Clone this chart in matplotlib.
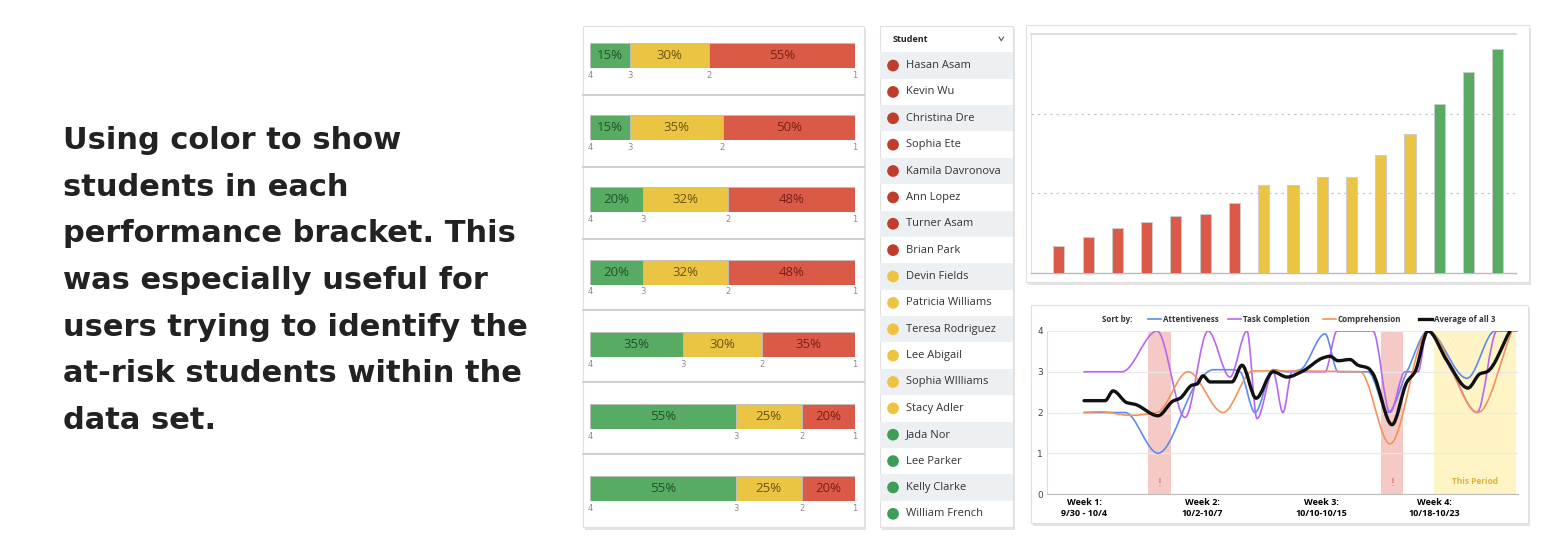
import matplotlib
matplotlib.use("Agg")
import matplotlib.pyplot as plt
import numpy as np
from matplotlib.patches import Rectangle, PathPatch
from matplotlib.path import Path
from matplotlib.lines import Line2D

W, H = 1564, 550

# ---- data ----
intro_lines = [
    "Using color to show",
    "students in each",
    "performance bracket. This",
    "was especially useful for",
    "users trying to identify the",
    "at-risk students within the",
    "data set.",
]

# green / yellow / red share of each bracket row (percent)
green_pct = [15, 15, 20, 20, 35, 55, 55]
yellow_pct = [30, 35, 32, 32, 30, 25, 25]
red_pct = [55, 50, 48, 48, 35, 20, 20]
bracket_ticks = ["4", "3", "2", "1"]

students = [
    "Hasan Asam", "Kevin Wu", "Christina Dre", "Sophia Ete", "Kamila Davronova",
    "Ann Lopez", "Turner Asam", "Brian Park", "Devin Fields", "Patricia Williams",
    "Teresa Rodriguez", "Lee Abigail", "Sophia WIlliams", "Stacy Adler",
    "Jada Nor", "Lee Parker", "Kelly Clarke", "William French",
]
student_level = ["red"] * 8 + ["yellow"] * 6 + ["green"] * 4

scores = [0.34, 0.45, 0.57, 0.64, 0.71, 0.74, 0.88, 1.11,
          1.11, 1.20, 1.20, 1.48, 1.75, 2.12, 2.52, 2.81]
score_level = ["red"] * 7 + ["yellow"] * 6 + ["green"] * 3

week_pos = [0.0, 1.0, 2.01, 2.97]
week_labels = ["Week 1:\n9/30 - 10/4", "Week 2:\n10/2-10/7",
               "Week 3:\n10/10-10/15", "Week 4:\n10/18-10/23"]

att_t = [0.0, 0.347, 0.627, 0.983, 1.093, 1.263, 1.322, 1.449, 1.602, 1.72,
         1.831, 2.042, 2.153, 2.407, 2.576, 2.737, 2.915, 3.246, 3.483, 3.669]
att_v = [2.0, 2.0, 1.0, 2.83, 3.05, 3.05, 3.0, 2.0, 3.05, 3.0,
         3.05, 3.93, 3.0, 3.0, 2.0, 3.0, 4.0, 2.84, 4.0, 4.0]

task_t = [0.0, 0.322, 0.619, 0.856, 1.051, 1.237, 1.381, 1.466, 1.602, 1.686, 1.763,
          2.042, 2.144, 2.449, 2.593, 2.72, 2.831, 2.907, 3.119, 3.331, 3.5, 3.669]
task_v = [3.0, 3.0, 4.0, 1.88, 4.0, 2.87, 4.0, 1.85, 3.0, 2.0, 3.0,
          3.0, 4.0, 4.0, 2.0, 3.0, 3.0, 4.0, 3.0, 2.0, 4.0, 4.0]

comp_t = [0.0, 0.136, 0.39, 0.619, 0.881, 1.178, 1.432, 2.339, 2.593, 2.915, 3.339, 3.627]
comp_v = [2.0, 2.02, 1.93, 2.0, 3.0, 2.0, 3.02, 3.0, 1.23, 4.0, 2.0, 4.0]

avg_t = [0.0, 0.178, 0.246, 0.364, 0.432, 0.627, 0.754, 0.814, 0.915, 0.958, 1.008,
         1.068, 1.254, 1.339, 1.458, 1.602, 1.72, 1.856, 2.025, 2.085, 2.153, 2.254,
         2.322, 2.407, 2.449, 2.61, 2.737, 2.805, 2.915, 3.076, 3.254, 3.356, 3.415, 3.61]
avg_v = [2.29, 2.29, 2.53, 2.24, 2.2, 1.92, 2.28, 2.35, 2.67, 2.7, 2.9,
         2.75, 2.75, 3.16, 2.35, 3.0, 2.87, 3.02, 3.34, 3.38, 3.27, 3.3,
         3.16, 3.09, 2.95, 1.7, 2.75, 3.0, 4.0, 3.27, 2.6, 2.95, 3.0, 4.0]

alert_spans = [(0.542, 0.737), (2.517, 2.703)]
period_span = (2.966, 3.661)

# ---- colours ----
fill = {"green": "#57ab63", "yellow": "#ebc444", "red": "#da5a47"}
ink = {"green": "#24522c", "yellow": "#6a5412", "red": "#7c1f16"}
dot = {"green": "#3f9d55", "yellow": "#f0c240", "red": "#c03d2e"}

fig = plt.figure(figsize=(W / 100, H / 100), dpi=100)
fig.patch.set_facecolor("white")


def px_axes(x0, y0, x1, y1):
    return fig.add_axes([x0 / W, 1 - y1 / H, (x1 - x0) / W, (y1 - y0) / H])


def card(x0, y0, x1, y1):
    fig.add_artist(Rectangle((x0 / W + 2 / W, 1 - (y1 + 3) / H), (x1 - x0) / W, (y1 - y0) / H,
                             transform=fig.transFigure, facecolor="#e4e4e4",
                             edgecolor="none", zorder=-3))
    fig.add_artist(Rectangle((x0 / W, 1 - y1 / H), (x1 - x0) / W, (y1 - y0) / H,
                             transform=fig.transFigure, facecolor="white",
                             edgecolor="#e0e0e0", lw=0.8, zorder=-2))


def smooth_path(t, v):
    # monotone cubic (pchip style) drawn as bezier segments
    t = np.asarray(t, float)
    v = np.asarray(v, float)
    h = np.diff(t)
    d = np.diff(v) / h
    m = np.zeros_like(v)
    m[0], m[-1] = d[0], d[-1]
    for k in range(1, len(v) - 1):
        if d[k - 1] * d[k] > 0:
            w1 = 2 * h[k] + h[k - 1]
            w2 = h[k] + 2 * h[k - 1]
            m[k] = (w1 + w2) / (w1 / d[k - 1] + w2 / d[k])
    verts = [(t[0], v[0])]
    codes = [Path.MOVETO]
    for k in range(len(h)):
        verts += [(t[k] + h[k] / 3, v[k] + m[k] * h[k] / 3),
                  (t[k + 1] - h[k] / 3, v[k + 1] - m[k + 1] * h[k] / 3),
                  (t[k + 1], v[k + 1])]
        codes += [Path.CURVE4] * 3
    return Path(verts, codes)


# ---- intro text ----
for i, line in enumerate(intro_lines):
    fig.text(63 / W, 1 - (149 + 46.7 * i) / H, line, family="DejaVu Sans", weight="bold",
             fontsize=22, color="#222222", va="baseline", ha="left")

# ---- bracket bars ----
card(583, 26, 864, 527)
for i in range(6):
    y = 95 + 71.8 * i
    fig.add_artist(Line2D([583 / W, 864 / W], [1 - y / H, 1 - y / H], transform=fig.transFigure,
                          color="#cfcfcf", lw=1.4, zorder=-1))

for i in range(len(green_pct)):
    top = 43 + 72.2 * i
    ax = px_axes(590, top, 855, top + 25)
    segs = [(green_pct[i], "green"), (yellow_pct[i], "yellow"), (red_pct[i], "red")]
    left = 0
    bounds = [0]
    for val, lev in segs:
        ax.barh(0, val, left=left, height=1, color=fill[lev], edgecolor="#bdbdbd", lw=0.6)
        ax.text(left + val / 2, 0, f"{val}%", ha="center", va="center", fontsize=9.5,
                family="Open Sans", color=ink[lev])
        left += val
        bounds.append(left)
    ax.set_xlim(0, 100)
    ax.set_ylim(-0.5, 0.5)
    ax.set_xticks(bounds)
    ax.set_xticklabels(bracket_ticks)
    ax.set_yticks([])
    ax.tick_params(axis="x", length=0, pad=2, labelsize=6, labelcolor="#8a8a8a")
    for s in ax.spines.values():
        s.set_visible(False)
    ax.patch.set_alpha(0)

# ---- student list ----
card(880, 26, 1013, 527)
ax = px_axes(880, 26, 1013, 527)
ax.set_xlim(0, 1)
ax.set_ylim(17.5, -1.5)
for i, name in enumerate(students):
    if i % 2 == 0:
        ax.axhspan(i - 0.5, i + 0.5, color="#edf0f2", lw=0)
    ax.text(0.195, i, name, va="center", ha="left", fontsize=8, family="Open Sans", color="#333333")
ax.scatter([0.098] * len(students), range(len(students)),
           c=[dot[l] for l in student_level], s=55, zorder=3)
ax.text(0.098, -1, "Student", va="center", ha="left", fontsize=6.5, weight="bold",
        family="Open Sans", color="#222222")
ax.plot([0.895, 0.912, 0.929], [-1.08, -0.94, -1.08], color="#555555", lw=0.8)
ax.axis("off")

# ---- score bars ----
card(1026, 25, 1529, 282)
ax = px_axes(1031, 34, 1516, 273)
ax.bar(range(len(scores)), scores, width=0.38, color=[fill[l] for l in score_level],
       edgecolor="#cccccc", lw=0.7, zorder=3)
ax.set_xlim(-0.95, 15.62)
ax.set_ylim(0, 3)
ax.set_yticks([1, 2])
ax.set_xticks([])
ax.grid(axis="y", ls=(0, (2, 3)), color="#c8c8c8", lw=0.9)
ax.tick_params(length=0, labelleft=False)
ax.spines["right"].set_visible(False)
ax.spines["top"].set_color("#d8d8d8")
ax.spines["top"].set_linewidth(1.2)
ax.spines["left"].set_color("#dddddd")
ax.spines["bottom"].set_color("#bbbbbb")
ax.spines["bottom"].set_linewidth(1.0)

# ---- trend lines ----
card(1031, 305, 1528, 523)
ax = px_axes(1047, 331, 1518, 494)
ax.set_xlim(-0.314, 3.678)
ax.set_ylim(0, 4)
for a, b in alert_spans:
    ax.axvspan(a, b, color="#f5c9c5", lw=0, zorder=0.5)
    ax.text((a + b) / 2, 0.28, "!", ha="center", va="center", color="#e05a4d", fontsize=7)
ax.axvspan(*period_span, color="#fff4c6", lw=0, zorder=0.5)
ax.text(sum(period_span) / 2, 0.3, "This Period", ha="center", va="center",
        color="#dcb33c", fontsize=6, weight="bold", family="Open Sans")
ax.set_yticks(range(5))
ax.grid(axis="y", color="#e9e9e9", lw=0.9)
ax.set_axisbelow(True)
ax.set_xticks(week_pos)
ax.set_xticklabels(week_labels, fontsize=6.5, weight="bold", family="Open Sans", linespacing=1.3)
ax.tick_params(axis="x", length=0, pad=3)
ax.tick_params(axis="y", length=0, pad=3, labelsize=6.5, labelcolor="#444444")
for s in ["top", "right"]:
    ax.spines[s].set_visible(False)
ax.spines["left"].set_color("#dddddd")
ax.spines["bottom"].set_color("#bbbbbb")

series = [
    (att_t, att_v, "#5b8def", 1.2, "Attentiveness"),
    (task_t, task_v, "#b866f2", 1.2, "Task Completion"),
    (comp_t, comp_v, "#f3935a", 1.2, "Comprehension"),
    (avg_t, avg_v, "#111111", 2.4, "Average of all 3"),
]
for t, v, col, lw, lab in series:
    ax.add_patch(PathPatch(smooth_path(t, v), fill=False, edgecolor=col, lw=lw,
                           zorder=4 if lw > 2 else 3, capstyle="round", joinstyle="round"))

# legend row
legend_x = [1148, 1228, 1323, 1419]
ly = 1 - 319 / H
fig.text(1102 / W, ly, "Sort by:", fontsize=5.8, weight="bold", family="Open Sans",
         color="#333333", va="center")
for x0, (t, v, col, lw, lab) in zip(legend_x, series):
    fig.add_artist(Line2D([x0 / W, (x0 + 13) / W], [ly, ly], transform=fig.transFigure,
                          color=col, lw=lw))
    fig.text((x0 + 15) / W, ly, lab, fontsize=5.8, weight="bold", family="Open Sans",
             color="#333333", va="center")

fig.savefig("out.png", dpi=100, facecolor="white")
